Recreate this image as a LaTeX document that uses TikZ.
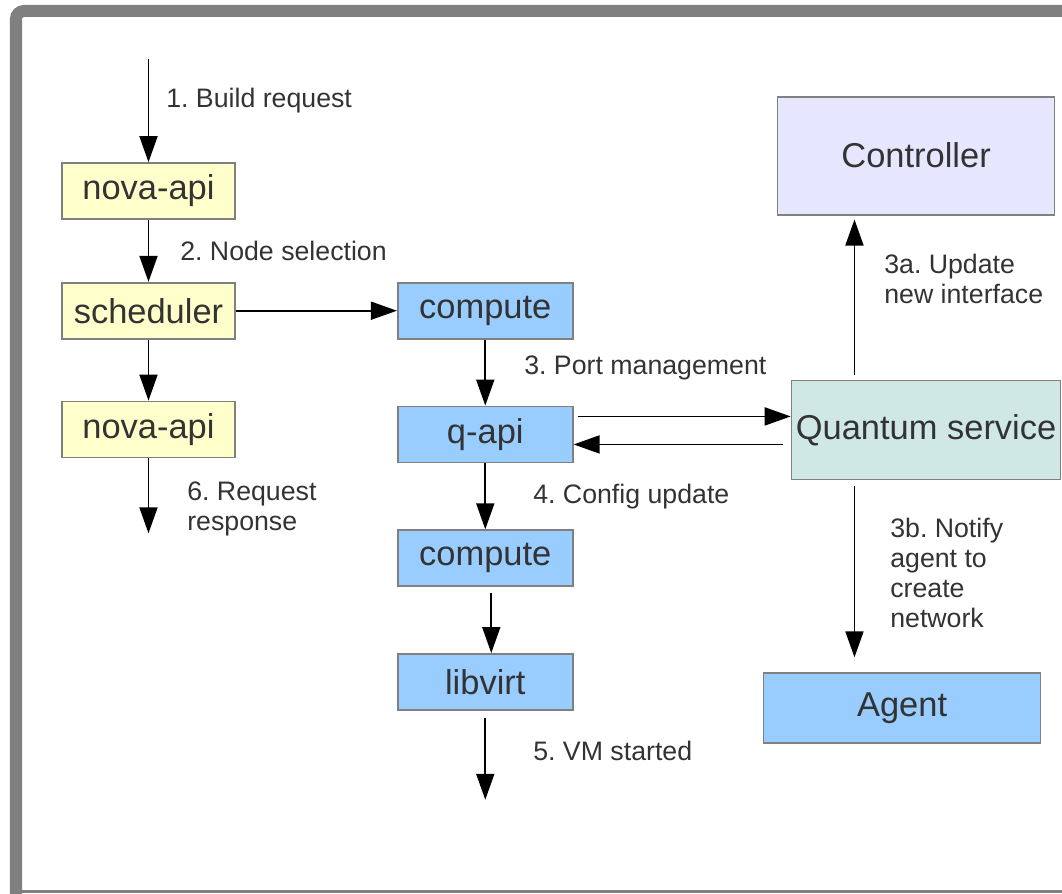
\documentclass[tikz,border=0pt]{standalone}
\usepackage{fontspec}
\setmainfont{Liberation Sans}
\frenchspacing
\usetikzlibrary{positioning,arrows.meta}
\definecolor{novaYellow}{HTML}{FFFFCC}
\definecolor{computeBlue}{HTML}{99CCFF}
\definecolor{ctrlLilac}{HTML}{E6E6FF}
\definecolor{quantumTeal}{HTML}{D0E8E5}
\definecolor{textGray}{HTML}{333333}
\definecolor{frameGray}{HTML}{808080}

\begin{document}
\begin{tikzpicture}[x=0.025cm, y=-0.025cm, >={Triangle[length=0.65cm,width=0.45cm]}]
% Definition of blocks:
\tikzset{%
  block/.style    = {draw=frameGray, line width=1.2pt, rectangle, inner sep=0pt, text=textGray, font=\fontsize{24.5}{29}\selectfont},
  novablock/.style = {block, fill=novaYellow, minimum width=4.325cm, minimum height=1.4cm},
  compblock/.style = {block, fill=computeBlue, minimum width=4.375cm, minimum height=1.4cm},
  step text/.style = {inner sep=0pt, anchor=base west, align=left, text=textGray, font=\fontsize{19}{21.3}\selectfont},
  input/.style    = {coordinate}, % Input
  flow/.style     = {->, line width=1.3pt}
}

% frame
\useasboundingbox (0,0) rectangle (1062,893);
\draw[frameGray, line width=0.3cm, rounded corners=0.2cm] (16,900) -- (16,11) -- (1075,11);
\draw[frameGray, line width=2.2pt] (16,891.5) -- (1062,891.5);

% nova side
\draw
	node [novablock] at (148.5,191) (NovaApi) {nova-api}
	node [novablock, below = 1.55cm of NovaApi] (Scheduler) {scheduler}
	node [novablock, below = 1.525cm of Scheduler] (NovaApiBack) {nova-api}
	node [input, above = 2.575cm of NovaApi] (Request) {}
	node [input, below = 1.875cm of NovaApiBack] (Response) {};

% compute side
\draw
	node [compblock, right = 4.025cm of Scheduler] (Compute) {compute}
	node [compblock, below = 1.65cm of Compute] (QApi) {q-api}
	node [compblock, below = 1.65cm of QApi] (ComputeCfg) {compute}
	node [compblock, below = 1.65cm of ComputeCfg] (Libvirt) {libvirt}
	node [input, below = 2.225cm of Libvirt] (VmUp) {};

% quantum side
\draw
	node [block, fill=quantumTeal, minimum width=6.725cm, minimum height=2.475cm, right = 5.425cm of QApi, yshift=0.1125cm] (Quantum) {Quantum service}
	node [block, fill=ctrlLilac, minimum width=6.925cm, minimum height=2.95cm, above = 4.1cm of Quantum, xshift=-0.25cm] (Controller) {Controller}
	node [block, fill=computeBlue, minimum width=6.925cm, minimum height=1.75cm, below = 4.8cm of Quantum, xshift=-0.6cm] (Agent) {Agent};

\draw[flow](Request) -- (NovaApi);
\draw[flow](NovaApi) -- (Scheduler);
\draw[flow](Scheduler) -- (Compute);
\draw[flow](Scheduler) -- (NovaApiBack);
\draw[flow](NovaApiBack) -- (Response);
\draw[flow](Compute) -- (QApi);
\draw[flow, shorten <=0.1cm]([yshift=0.45cm]QApi.east) -- ([yshift=0.45cm]QApi.east -| Quantum.west);
\draw[flow, shorten <=0.2cm]([yshift=-0.25cm]QApi.east -| Quantum.west) -- ([yshift=-0.25cm]QApi.east);
\draw[flow](QApi) -- (ComputeCfg);
\draw[flow, shorten <=0.15cm]([xshift=0.15cm]ComputeCfg.south) -- ([xshift=0.15cm]Libvirt.north);
\draw[flow, shorten <=0.175cm](Libvirt) -- (VmUp);
\draw[flow, shorten <=0.125cm, shorten >=0.1cm]([xshift=-1.79cm]Quantum.north) -- ([xshift=-1.79cm]Quantum.north |- Controller.south);
\draw[flow, shorten <=0.15cm, shorten >=0.375cm]([xshift=-1.79cm]Quantum.south) -- ([xshift=-1.79cm]Quantum.south |- Agent.north);

% step labels (base = last line)
\node [step text] at (166,108) (LblBuild) {1. Build request};
\node [step text] at (180,260) (LblSelect) {2. Node selection};
\node [step text] at (524,374) (LblPort) {3. Port management};
\node [step text] at (884,303) (LblUpdate) {3a. Update\\new interface};
\node [step text] at (890,627) (LblNotify) {3b. Notify\\agent to\\create\\network};
\node [step text] at (533,503) (LblConfig) {4. Config update};
\node [step text] at (533,760) (LblVm) {5. VM started};
\node [step text] at (187,530) (LblResp) {6. Request\\response};

\end{tikzpicture}
\end{document}
